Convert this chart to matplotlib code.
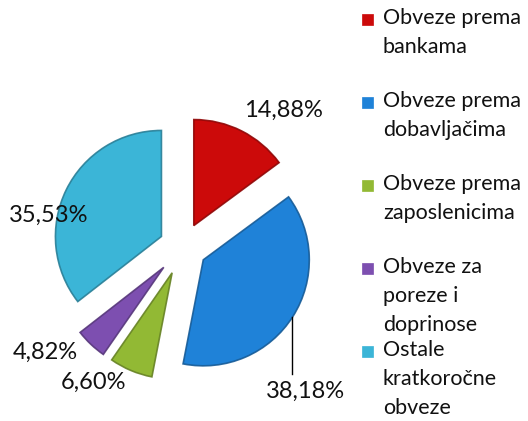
import matplotlib.pyplot as plt
import matplotlib.colors as mcolors

plt.rcParams['font.family'] = ['Lato', 'DejaVu Sans']

categories = ["Obveze prema\nbankama", "Obveze prema\ndobavljačima", "Obveze prema\nzaposlenicima",
              "Obveze za\nporeze i\ndoprinose", "Ostale\nkratkoročne\nobveze"]
shares = [14.88, 38.18, 6.60, 4.82, 35.53]
pct_labels = ["14,88%", "38,18%", "6,60%", "4,82%", "35,53%"]
colors = ["#cc0a0a", "#1f82d8", "#92b934", "#7d4fb0", "#3bb5d7"]

W, H = 528, 421
fig = plt.figure(figsize=(W / 100, H / 100), dpi=100)
ax = fig.add_axes([0, 0, 1, 1])

# pie centre / radius / explode in pixel units of this axes
cx, cy, r = 183, H - 247, 106
wedges, _ = ax.pie(shares, colors=colors, startangle=90, counterclock=False,
                   explode=[24, 24, 28, 28, 24], center=(cx, cy), radius=r,
                   wedgeprops=dict(linewidth=1.2))
for w, c in zip(wedges, colors):
    w.set_edgecolor(mcolors.to_rgba(tuple(v * 0.7 for v in mcolors.to_rgb(c)), 0.9))

ax.set_xlim(0, W)
ax.set_ylim(0, H)
ax.set_aspect("equal")
ax.axis("off")

# percentage labels (positions)
label_pos = [(283, 110), (305, 391), (93, 382), (45, 352), (49, 215)]
for (x, y), t in zip(label_pos, pct_labels):
    ax.text(x, H - y, t, ha="center", va="center", fontsize=17, color="#111111")
# leader line for the blue slice label
ax.plot([292, 292], [H - 317, H - 374], color="black", lw=1)

# legend drawn manually
for i, (lab, c) in enumerate(zip(categories, colors)):
    y0 = 20 + i * 83
    ax.add_patch(plt.Rectangle((362, H - y0 - 5), 11, 11, facecolor=c,
                               edgecolor=mcolors.to_rgb(c), lw=0.5))
    ax.text(383, H - y0 + 12, lab, ha="left", va="top", fontsize=15.5,
            linespacing=1.55, color="#111111")

fig.savefig("out.png", dpi=100)
